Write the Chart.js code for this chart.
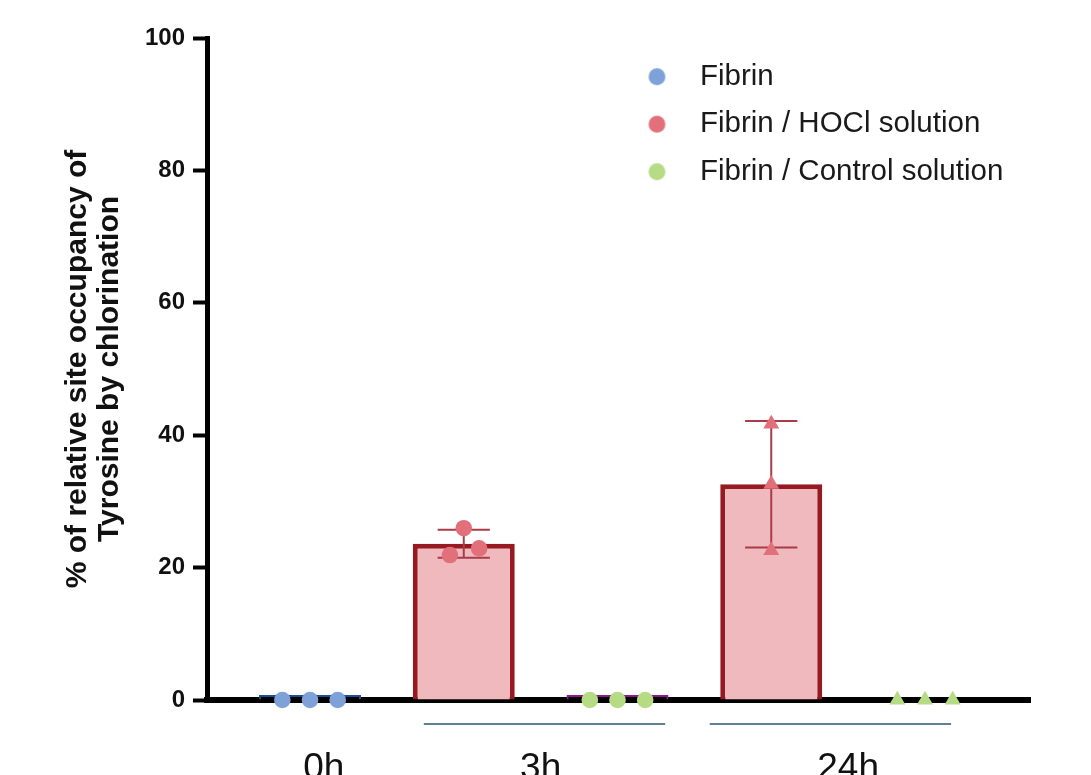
<!DOCTYPE html>
<html>
<head>
<meta charset="utf-8">
<script src="https://cdn.jsdelivr.net/npm/chart.js@4.4.1/dist/chart.umd.min.js"></script>
<style>
html,body{margin:0;padding:0;background:#fff;}
#wrap{width:1091px;height:775px;position:relative;}
</style>
</head>
<body>
<div id="wrap"><canvas id="c" width="1091" height="775"></canvas></div>
<script>
// ---------------- data ----------------
const categories = ['Fibrin 0h', 'Fibrin / HOCl 3h', 'Fibrin / Control 3h', 'Fibrin / HOCl 24h', 'Fibrin / Control 24h'];
const categoryPos = [1, 2, 3, 4, 5];
const seriesNames = ['Fibrin', 'Fibrin / HOCl solution', 'Fibrin / Control solution'];

const barMeans = [0.75, 23.6, 0.75, 32.6, 0];

// replicate values
const fibrin0h = [0, 0, 0];
const hocl3h = [21.9, 25.95, 22.9];
const control3h = [0, 0, 0];
const hocl24h = [22.6, 32.6, 41.7];
const control24h = [0, 0, 0];

// error bars (mean ± SD) for HOCl groups
const hoclErrCat = [2, 4];
const hoclErrMean = [23.6, 32.6];
const hoclErrSD = [2.1, 9.55];

const xTickLabels = ['0h', '3h', '24h'];
const xTickValues = [1.09, 2.5, 4.5];
const groupSpans = [[1.74, 3.31], [3.6, 5.17]];

const yTitleLines = ['% of relative site occupancy of', 'Tyrosine by chlorination'];

// ---------------- styles ----------------
const FONT = "'Liberation Sans', Arial, Helvetica, sans-serif";
const COL = {
  blue: '#7ea2d8', red: '#e2707a', green: '#b6db85',
  blueEdge: '#1d4e8f', purpleEdge: '#8b1a8b',
  hoclFill: '#efb9bd', hoclEdge: '#971a22',
  err: '#a83c48', group: '#5f8197'
};
const seriesColors = [COL.blue, COL.red, COL.green];
const wideJitter = [-0.18, 0, 0.18];
const hocl3hJitter = [-0.09, 0, 0.1];
const noJitter = [0, 0, 0];

function pts(cat, vals, jit) {
  return vals.map((v, i) => ({ x: cat + jit[i], y: v }));
}

const fibrinPts = pts(categoryPos[0], fibrin0h, wideJitter);
const hoclPts = pts(categoryPos[1], hocl3h, hocl3hJitter).concat(pts(categoryPos[3], hocl24h, noJitter));
const controlPts = pts(categoryPos[2], control3h, wideJitter).concat(pts(categoryPos[4], control24h, wideJitter));

const shape = (n3, n24) => Array(n3).fill('circle').concat(Array(n24).fill('triangle'));
const radius = (n3, n24) => Array(n3).fill(8.3).concat(Array(n24).fill(9.2));

// error bar path (caps + stem), gaps via null
const capHalf = 0.17;
const errData = [];
hoclErrCat.forEach((c, i) => {
  const hi = hoclErrMean[i] + hoclErrSD[i];
  const lo = hoclErrMean[i] - hoclErrSD[i];
  errData.push({ x: c - capHalf, y: hi }, { x: c + capHalf, y: hi }, { x: c, y: null },
               { x: c, y: hi }, { x: c, y: lo }, { x: c, y: null },
               { x: c - capHalf, y: lo }, { x: c + capHalf, y: lo }, { x: c, y: null });
});

const barData = categoryPos.map((c, i) => ({ x: c, y: barMeans[i] }));

// legend marker images (circle dots)
function dotCanvas(color, r) {
  const s = Math.ceil(2 * r + 2);
  const cv = document.createElement('canvas');
  cv.width = s; cv.height = s;
  const g = cv.getContext('2d');
  g.fillStyle = color;
  g.beginPath(); g.arc(s / 2, s / 2, r, 0, Math.PI * 2); g.fill();
  return cv;
}
const legendMarkers = seriesColors.map(c => dotCanvas(c, 8.4));

// ---------------- plugins ----------------
const legendPlacer = {
  id: 'legendPlacer',
  afterLayout(chart) {
    const lg = chart.legend;
    if (!lg) return;
    lg.left = 610.75; lg.top = 44; lg.width = 470; lg.height = 200;
    lg.right = lg.left + lg.width; lg.bottom = lg.top + lg.height;
  }
};
const groupLines = {
  id: 'groupLines',
  afterDraw(chart) {
    const { ctx, scales: { x }, chartArea } = chart;
    ctx.save();
    ctx.strokeStyle = COL.group;
    ctx.lineWidth = 2;
    const y = chartArea.bottom + 24;
    groupSpans.forEach(([a, b]) => {
      ctx.beginPath();
      ctx.moveTo(x.getPixelForValue(a), y);
      ctx.lineTo(x.getPixelForValue(b), y);
      ctx.stroke();
    });
    ctx.restore();
  }
};

// ---------------- chart ----------------
new Chart(document.getElementById('c'), {
  type: 'bar',
  data: {
    datasets: [
      { type: 'scatter', label: seriesNames[0], data: fibrinPts, backgroundColor: COL.blue, borderWidth: 0,
        pointStyle: shape(3, 0), pointRadius: radius(3, 0), order: 0, clip: false, showInLegend: true },
      { type: 'scatter', label: seriesNames[1], data: hoclPts, backgroundColor: COL.red, borderWidth: 0,
        pointStyle: shape(3, 3), pointRadius: radius(3, 3), order: 0, clip: false, showInLegend: true },
      { type: 'scatter', label: seriesNames[2], data: controlPts, backgroundColor: COL.green, borderWidth: 0,
        pointStyle: shape(3, 3), pointRadius: radius(3, 3), order: 0, clip: false, showInLegend: true },
      { type: 'line', label: 'SD', data: errData, borderColor: COL.err, borderWidth: 2, pointRadius: 0,
        spanGaps: false, fill: false, order: 1, clip: false },
      { type: 'bar', label: 'Mean', data: barData,
        backgroundColor: ['rgba(0,0,0,0)', COL.hoclFill, 'rgba(0,0,0,0)', COL.hoclFill, 'rgba(0,0,0,0)'],
        borderColor: [COL.blueEdge, COL.hoclEdge, COL.purpleEdge, COL.hoclEdge, COL.purpleEdge],
        borderWidth: [2, 5, 2, 5, 0],
        barPercentage: 0.6634, categoryPercentage: 1, order: 2 }
    ]
  },
  options: {
    responsive: false,
    animation: false,
    events: [],
    layout: { padding: { left: 0, right: 61, top: 38, bottom: 0 } },
    plugins: {
      tooltip: { enabled: false },
      legend: {
        position: 'chartArea',
        align: 'start',
        labels: {
          usePointStyle: true,
          pointStyleWidth: 56.5,
          boxHeight: 12,
          padding: 18,
          color: '#1a1a1a',
          font: { family: FONT, size: 29.5 },
          generateLabels: (chart) => Chart.defaults.plugins.legend.labels.generateLabels(chart)
            .filter(item => chart.data.datasets[item.datasetIndex].showInLegend === true)
            .map(item => Object.assign(item, { pointStyle: legendMarkers[item.datasetIndex] }))
        }
      }
    },
    scales: {
      x: {
        type: 'linear', min: 0.33, max: 5.683, offset: false,
        afterBuildTicks: s => { s.ticks = xTickValues.map(v => ({ value: v })); },
        ticks: { autoSkip: false, maxRotation: 0, color: '#111', padding: 39,
                 font: { family: FONT, size: 37 }, callback: (v, i) => xTickLabels[i] },
        grid: { display: false, offset: false },
        border: { display: true, color: '#000', width: 6 },
        afterFit: s => { s.height = 75; }
      },
      y: {
        type: 'linear', min: 0, max: 100,
        ticks: { stepSize: 20, color: '#111', padding: 8, font: { family: FONT, size: 24, weight: 'bold' } },
        grid: { display: true, drawOnChartArea: false, drawTicks: true, tickLength: 14, tickWidth: 4,
                tickColor: '#000', color: '#000' },
        border: { display: true, color: '#000', width: 5 },
        title: { display: true, text: yTitleLines, color: '#111',
                 font: { family: FONT, size: 30, weight: 'bold', lineHeight: 1.05 },
                 padding: { top: 62, bottom: 0 } },
        afterFit: s => { s.width = 207; }
      }
    }
  },
  plugins: [legendPlacer, groupLines]
});
</script>
</body>
</html>
